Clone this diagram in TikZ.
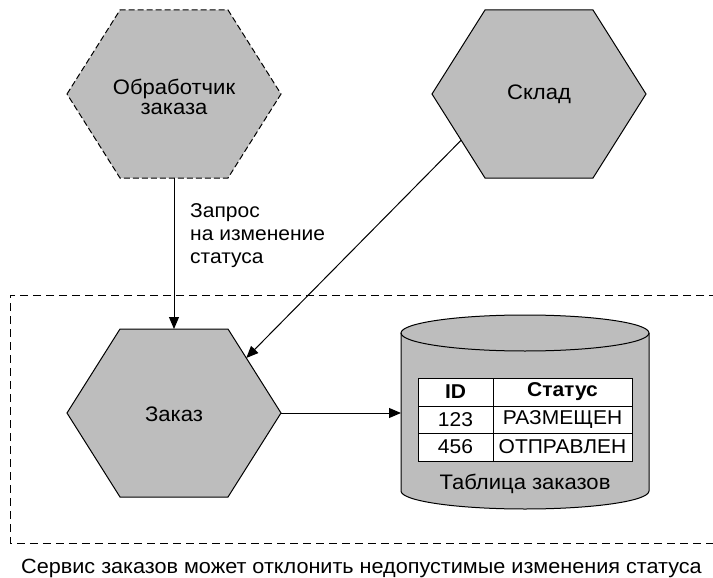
\documentclass[tikz,border=0pt]{standalone}
\usepackage{fontspec}
\setmainfont[FakeStretch=1.05]{Liberation Sans}
\usetikzlibrary{arrows.meta,calc}

\definecolor{shapegray}{RGB}{189,189,189}

\tikzset{
  hexbox/.style={fill=shapegray, draw=black, line width=1pt, line join=miter},
  hexdashed/.style={hexbox, dash pattern=on 6pt off 3pt},
  flow/.style={line width=1pt, -{Triangle[length=12pt,width=10pt]}},
  boundary/.style={line width=1pt, dash pattern=on 8pt off 5pt},
  lbl/.style={font=\fontsize{21}{20}\selectfont, align=center, inner sep=0pt},
  note/.style={font=\fontsize{20}{23}\selectfont, align=left, inner sep=0pt},
  cell/.style={font=\fontsize{20}{22}\selectfont, inner sep=0pt},
  headcell/.style={cell, font=\fontsize{20}{22}\selectfont\bfseries},
  captiontext/.style={font=\fontsize{20.6}{22}\selectfont, inner sep=0pt},
}

% hexagon with flat top and bottom: name, centre x, centre y, style
\newcommand\hexpath[4]{%
  \coordinate (#1-l)  at ({#2-107},#3);
  \coordinate (#1-tl) at ({#2-54},{#3-84});
  \coordinate (#1-tr) at ({#2+54},{#3-84});
  \coordinate (#1-r)  at ({#2+107},#3);
  \coordinate (#1-br) at ({#2+54},{#3+84});
  \coordinate (#1-bl) at ({#2-54},{#3+84});
  \coordinate (#1-n)  at (#2,{#3-84});
  \coordinate (#1-s)  at (#2,{#3+84});
  \path[#4] (#1-l) -- (#1-tl) -- (#1-tr) -- (#1-r) -- (#1-br) -- (#1-bl) -- cycle;
}

\begin{document}
\begin{tikzpicture}[x=1pt,y=-1pt]
  \useasboundingbox (0,0) rectangle (713,578);

  % service boundary (runs off the right edge)
  \draw[boundary] (730,295) -- (10,295) -- (10,543) -- (730,543);

  % services
  \hexpath{proc}{174}{94}{hexdashed}
  \hexpath{stock}{539}{94}{hexbox}
  \hexpath{order}{174}{413}{hexbox}

  \node[lbl] (proctext) at (174,97) {Обработчик\\заказа};
  \node[lbl] (stocktext) at (539,94) {Склад};
  \node[lbl] (ordertext) at (174,414) {Заказ};

  % orders table storage (y axis points down, so arcs run the other way)
  \coordinate (db-w) at (401,413);
  \path[fill=shapegray] (401,333) -- (401,491)
        arc[start angle=180, end angle=0, x radius=124, y radius=18]
        -- (649,333)
        arc[start angle=360, end angle=180, x radius=124, y radius=18] -- cycle;
  \draw[line width=1pt] (401,333) -- (401,491)
        arc[start angle=180, end angle=0, x radius=124, y radius=18] -- (649,333);
  \draw[line width=1pt] (525,333) ellipse[x radius=124, y radius=18];

  % table inside the storage
  \draw[line width=1pt, fill=white] (418,378) rectangle (632,461);
  \draw[line width=1pt] (418,406) -- (632,406) (418,433) -- (632,433) (493,378) -- (493,461);
  \node[headcell] (hid) at (455.5,392) {ID};
  \node[headcell] (hstatus) at (562.5,392) {Статус};
  \node[cell] (id1) at (455.5,420) {123};
  \node[cell] (st1) at (562.5,420) {РАЗМЕЩЕН};
  \node[cell] (id2) at (455.5,447) {456};
  \node[cell] (st2) at (562.5,447) {ОТПРАВЛЕН};
  \node[lbl] (dbtext) at (525,484) {Таблица заказов};

  % connectors
  \coordinate (stock-out) at ($(stock-l)!0.55!(stock-bl)$);
  \coordinate (order-in) at ($(order-tr)!0.345!(order-r)$);
  \draw[flow] (proc-s) -- (order-n);
  \draw[flow] (stock-out) -- (order-in);
  \draw[flow] (order-r) -- (db-w);

  \node[note, anchor=north west] (req) at (190,203) {Запрос\\на изменение\\статуса};

  % caption
  \node[captiontext, anchor=base west] (caption) at (21,573) {Сервис заказов может отклонить недопустимые изменения статуса};
\end{tikzpicture}
\end{document}
